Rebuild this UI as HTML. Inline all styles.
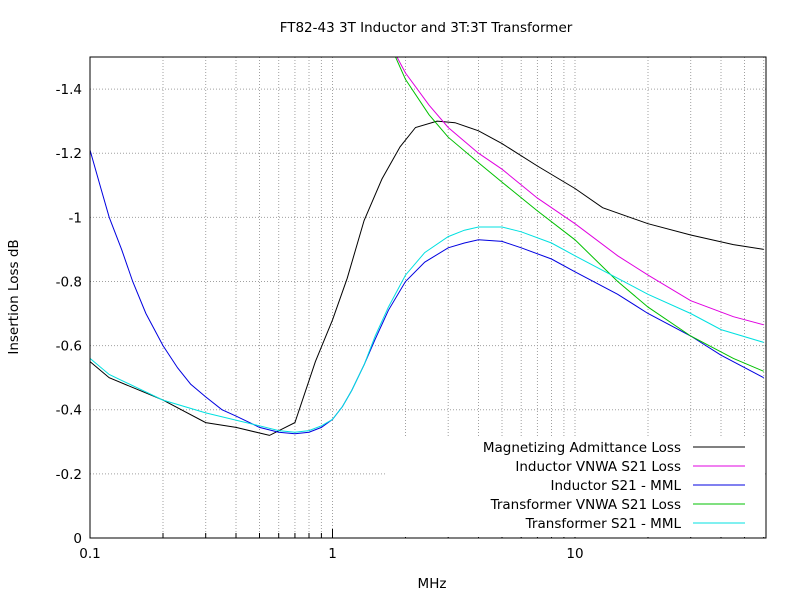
<!DOCTYPE html>
<html><head><meta charset="utf-8"><style>
body{margin:0;background:#fff;}
svg text{font-family:"DejaVu Sans","Liberation Sans",sans-serif;font-size:13.5px;fill:#000;}
</style></head><body>
<svg id="chart" width="800" height="600">
<defs><clipPath id="clip"><rect x="90" y="57" width="676" height="481"/></clipPath></defs>
<text x="426" y="32" text-anchor="middle">FT82-43 3T Inductor and 3T:3T Transformer</text>
<text x="432" y="588" text-anchor="middle">MHz</text>
<text transform="translate(18,297) rotate(-90)" text-anchor="middle">Insertion Loss dB</text>
<g id="grid"></g><g id="ticks"></g><g id="series" clip-path="url(#clip)"></g>
<rect x="386" y="436" width="379" height="101" fill="#fff"/>
<g id="legend"></g>
<rect x="90" y="57" width="676" height="481" fill="none" stroke="#000"/>
</svg>
<script>
const yTicks=[0,-0.2,-0.4,-0.6,-0.8,-1,-1.2,-1.4];
const yTickLabels=["0","-0.2","-0.4","-0.6","-0.8","-1","-1.2","-1.4"];
const xTicks=[0.1,1,10];
const xTickLabels=["0.1","1","10"];
const seriesNames=["Magnetizing Admittance Loss","Inductor VNWA S21 Loss","Inductor S21 - MML","Transformer VNWA S21 Loss","Transformer S21 - MML"];
const seriesColors=["#000000","#e000e0","#0000e0","#00c000","#00e0e0"];
const magF=[0.1,0.12,0.2,0.3,0.4,0.55,0.7,0.85,1.0,1.15,1.35,1.6,1.9,2.2,2.7,3.2,4,5,7,10,13,20,30,45,60];
const magV=[-0.55,-0.5,-0.43,-0.36,-0.345,-0.32,-0.36,-0.55,-0.68,-0.81,-0.99,-1.12,-1.22,-1.28,-1.3,-1.295,-1.27,-1.23,-1.16,-1.09,-1.03,-0.98,-0.945,-0.915,-0.9];
const indVnwaF=[1.7,2,2.5,3,4,5,7,10,15,20,30,45,60];
const indVnwaV=[-1.55,-1.45,-1.35,-1.28,-1.2,-1.15,-1.06,-0.98,-0.88,-0.82,-0.74,-0.69,-0.665];
const indMmlF=[0.1,0.11,0.12,0.135,0.15,0.17,0.2,0.23,0.26,0.3,0.35,0.4,0.5,0.6,0.7,0.8,0.9,1.0,1.1,1.2,1.35,1.5,1.7,2,2.4,3,3.5,4,5,6,8,10,15,20,30,40,60];
const indMmlV=[-1.21,-1.1,-1.0,-0.9,-0.8,-0.7,-0.6,-0.53,-0.48,-0.44,-0.4,-0.38,-0.345,-0.33,-0.325,-0.33,-0.345,-0.37,-0.41,-0.46,-0.54,-0.62,-0.71,-0.8,-0.86,-0.905,-0.92,-0.93,-0.925,-0.905,-0.87,-0.83,-0.76,-0.7,-0.63,-0.57,-0.5];
const trVnwaF=[1.7,2,2.5,3,4,5,7,10,15,20,30,45,60];
const trVnwaV=[-1.55,-1.43,-1.32,-1.25,-1.17,-1.11,-1.02,-0.93,-0.8,-0.72,-0.63,-0.56,-0.52];
const trMmlF=[0.1,0.12,0.2,0.3,0.5,0.6,0.7,0.8,0.9,1.0,1.1,1.2,1.35,1.5,1.7,2,2.4,3,3.5,4,5,6,8,10,15,20,30,40,60];
const trMmlV=[-0.56,-0.51,-0.43,-0.39,-0.35,-0.335,-0.33,-0.335,-0.35,-0.37,-0.41,-0.46,-0.54,-0.63,-0.72,-0.82,-0.89,-0.94,-0.96,-0.97,-0.97,-0.955,-0.92,-0.88,-0.81,-0.76,-0.7,-0.65,-0.61];
const X0=90,X1=766,Y0=538,Y1=57,DEC=242.5;
const xs=f=>X0+DEC*Math.log10(f/0.1);
const ys=v=>Y0-(v/-1.5)*(Y0-Y1);
const NS="http://www.w3.org/2000/svg";
function mk(tag,attrs,parent){const e=document.createElementNS(NS,tag);for(const k in attrs)e.setAttribute(k,attrs[k]);parent.appendChild(e);return e;}
const grid=document.getElementById('grid'),ticks=document.getElementById('ticks');
yTicks.forEach((v,i)=>{
 const y=ys(v);
 if(i>0){const g=mk('line',{x1:X0,x2:X1,y1:y,y2:y,stroke:'#a0a0a0','stroke-dasharray':'1,2'},grid);
 
 }
 const t=mk('text',{x:X0-8,y:y+5,'text-anchor':'end'},ticks);t.textContent=yTickLabels[i];
 
 
});
for(let d=0.1;d<60;d*=10){for(let m=1;m<10;m++){const f=d*m;if(f>60.5)break;const x=xs(f);
 if(x>X0+1){const g=mk('line',{x1:x,x2:x,y1:Y0,y2:Y1,stroke:'#a0a0a0','stroke-dasharray':'1,2'},grid);
 
 }
 mk('line',{x1:x,x2:x,y1:Y0,y2:Y0-(m==1?9:5),stroke:'#000'},ticks);}}
xTicks.forEach((f,i)=>{const t=mk('text',{x:xs(f),y:Y0+20,'text-anchor':'middle'},ticks);t.textContent=xTickLabels[i];
 
 });
const data=[[magF,magV],[indVnwaF,indVnwaV],[indMmlF,indMmlV],[trVnwaF,trVnwaV],[trMmlF,trMmlV]];
const sg=document.getElementById('series'),lg=document.getElementById('legend');
data.forEach((d,i)=>{
 const p=d[0].map((f,j)=>xs(f).toFixed(1)+','+ys(d[1][j]).toFixed(1)).join(' ');
 const l=mk('polyline',{points:p,fill:'none',stroke:seriesColors[i],'stroke-width':1},sg);
 
 
 const y=447+i*19;
 const t=mk('text',{x:681,y:y+5,'text-anchor':'end'},lg);t.textContent=seriesNames[i];
 
 
 const s=mk('line',{x1:693,x2:745,y1:y,y2:y,stroke:seriesColors[i]},lg);
 
 
});
</script>
</body></html>
